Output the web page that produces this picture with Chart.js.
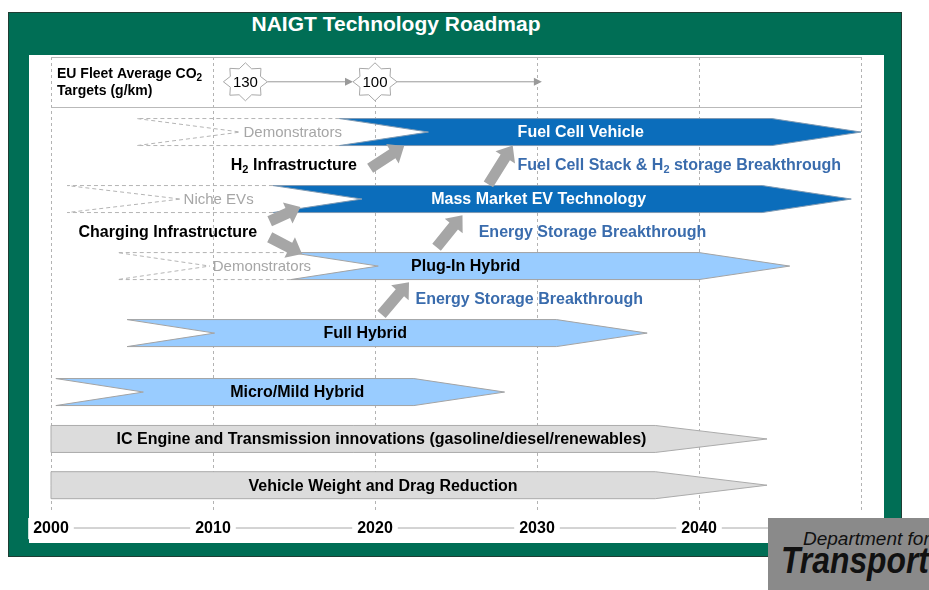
<!DOCTYPE html>
<html><head><meta charset="utf-8">
<script src="https://cdn.jsdelivr.net/npm/chart.js@4.4.1/dist/chart.umd.min.js"></script>
<style>
html,body{margin:0;padding:0;background:#fff;}
#wrap{position:relative;width:929px;height:590px;overflow:hidden;font-family:"Liberation Sans",Arial,sans-serif;}
#frame{position:absolute;left:8px;top:12px;width:894px;height:545px;background:#006e55;border:1px solid #1f3d33;box-sizing:border-box;}
#panel{position:absolute;left:29px;top:55px;width:855px;height:488px;background:#fff;}
#title{position:absolute;left:228px;top:11px;width:336px;text-align:center;color:#fff;font:bold 21px "Liberation Sans",Arial,sans-serif;line-height:26px;white-space:nowrap;}
canvas{position:absolute;left:0;top:0;}
#logo{position:absolute;left:768px;top:518px;width:161px;height:72px;background:#8a8a8a;overflow:hidden;}
#logo .l1{position:absolute;left:35px;top:10px;font:italic 19px "Liberation Sans",Arial,sans-serif;color:#111;white-space:nowrap;}
#logo .l2{position:absolute;left:13px;top:22px;font:bold italic 37px "Liberation Sans",Arial,sans-serif;color:#111;white-space:nowrap;transform:scaleX(0.86);transform-origin:0 0;}
</style></head>
<body>
<div id="wrap">
  <div id="frame"></div>
  <div id="panel"></div>
  <div id="title">NAIGT Technology Roadmap</div>
  <canvas id="c" width="929" height="590"></canvas>
  <div id="logo"><div class="l1">Department for</div><div class="l2">Transport</div></div>
</div>
<script>
// ---------------- DATA ----------------
const yearTicks = [2000, 2010, 2020, 2030, 2040, 2050];

const techNames = ['Fuel Cell Vehicle', 'Mass Market EV Technology', 'Plug-In Hybrid', 'Full Hybrid',
  'Micro/Mild Hybrid', 'IC Engine and Transmission innovations (gasoline/diesel/renewables)',
  'Vehicle Weight and Drag Reduction'];
const techStart = [2017.8, 2013.7, 2014.8, 2004.7, 2000.3, 2000, 2000];
const techEnd   = [2050, 2049.4, 2045.6, 2036.8, 2028, 2044.2, 2044.2];
const techLane  = [0, 1, 2, 3, 3.88, 4.58, 5.27];
const techKind  = ['dark', 'dark', 'light', 'light', 'light', 'grey', 'grey'];

const preNames   = ['Demonstrators', 'Niche EVs', 'Demonstrators'];
const preStart   = [2005.3, 2001.0, 2004.1];
const preLeadsTo = [0, 1, 2];

const co2Label    = ['EU Fleet Average CO_2', 'Targets (g/km)'];
const co2Years    = [2012, 2020];
const co2Values   = [130, 100];
const co2TrendEnd = 2030.3;

const enablerNames = ['H_2 Infrastructure', 'Charging Infrastructure'];
const enablerYear  = [2011.1, 2001.7];
const enablerLane  = [0.5, 1.5];

const breakNames = ['Fuel Cell Stack & H_2 storage Breakthrough', 'Energy Storage Breakthrough', 'Energy Storage Breakthrough'];
const breakYear  = [2028.8, 2026.4, 2022.5];
const breakLane  = [0.5, 1.5, 2.5];

const linkFromYear = [2019.7, 2013.5, 2013.5, 2023.8, 2027.0, 2020.4];
const linkFromLane = [0.54, 1.33, 1.57, 1.72, 0.78, 2.72];
const linkToYear   = [2021.8, 2015.4, 2015.5, 2025.4, 2028.5, 2022.1];
const linkToLane   = [0.21, 1.12, 1.82, 1.24, 0.20, 2.24];

// ---------------- LAYOUT / STYLE ----------------
const LANE_CO2 = -0.75, LANE_DIVIDER = -0.373;
const TECH_LABEL_AT = [2032.7, 2030.1, 2025.6, 2019.4, 2015.2, 2020.4, 2020.5];
const PRE_NOTCH = [6.4, 7.0, 5.7];
const KIND = {
  dark:  {fill: '#0b6dbb', stroke: '#7f9ab3', text: '#ffffff', head: 5.5, notch: 5.5},
  light: {fill: '#99ccff', stroke: '#a3a3a3', text: '#000000', head: 5.6, notch: 5.4},
  grey:  {fill: '#dcdcdc', stroke: '#ababab', text: '#000000', head: 6.9, notch: 0}
};
const FONT = '"Liberation Sans", Arial, sans-serif';
const BLUE_TEXT = '#3a6cad';
const ARROW_GREY = '#a6a6a6';

function drawRich(ctx, text, x, y, size, weight, align) {
  const parts = text.split(/(_\d)/).filter(Boolean);
  const fBase = weight + ' ' + size + 'px ' + FONT;
  const fSub = weight + ' ' + Math.round(size * 0.68) + 'px ' + FONT;
  let w = 0;
  parts.forEach(p => { const s = p[0] === '_'; ctx.font = s ? fSub : fBase; w += ctx.measureText(s ? p.slice(1) : p).width; });
  let cx = align === 'center' ? x - w / 2 : x;
  ctx.textAlign = 'left'; ctx.textBaseline = 'middle';
  parts.forEach(p => {
    const s = p[0] === '_'; const t = s ? p.slice(1) : p;
    ctx.font = s ? fSub : fBase;
    ctx.fillText(t, cx, y + (s ? size * 0.3 : 0));
    cx += ctx.measureText(t).width;
  });
}

function blockArrow(ctx, x1, y1, x2, y2, sw, hw, hl) {
  const dx = x2 - x1, dy = y2 - y1, L = Math.hypot(dx, dy);
  const ux = dx / L, uy = dy / L, nx = -uy, ny = ux;
  const bx = x2 - ux * hl, by = y2 - uy * hl;
  ctx.beginPath();
  ctx.moveTo(x1 + nx * sw / 2, y1 + ny * sw / 2);
  ctx.lineTo(bx + nx * sw / 2, by + ny * sw / 2);
  ctx.lineTo(bx + nx * hw / 2, by + ny * hw / 2);
  ctx.lineTo(x2, y2);
  ctx.lineTo(bx - nx * hw / 2, by - ny * hw / 2);
  ctx.lineTo(bx - nx * sw / 2, by - ny * sw / 2);
  ctx.lineTo(x1 - nx * sw / 2, y1 - ny * sw / 2);
  ctx.closePath();
  ctx.fill();
}

function star(ctx, cx, cy, rx, ry) {
  ctx.beginPath();
  for (let k = 0; k < 16; k++) {
    const a = -Math.PI / 2 + k * Math.PI / 8;
    const f = k % 2 === 0 ? 1 : 0.74;
    const px = cx + Math.cos(a) * rx * f, py = cy + Math.sin(a) * ry * f;
    if (k === 0) ctx.moveTo(px, py); else ctx.lineTo(px, py);
  }
  ctx.closePath();
}

function lineArrow(ctx, x1, x2, y) {
  ctx.beginPath(); ctx.moveTo(x1, y); ctx.lineTo(x2 - 6, y); ctx.stroke();
  ctx.beginPath(); ctx.moveTo(x2, y); ctx.lineTo(x2 - 8, y - 4); ctx.lineTo(x2 - 8, y + 4); ctx.closePath(); ctx.fill();
}

const roadmap = {
  id: 'roadmap',
  beforeDraw(chart) {
    const {ctx, scales: {x}} = chart;
    const yl = x.top + 16;
    ctx.save();
    ctx.strokeStyle = '#a8a8a8'; ctx.lineWidth = 1;
    ctx.beginPath();
    ctx.moveTo(x.getPixelForValue(yearTicks[0]), yl);
    ctx.lineTo(x.getPixelForValue(yearTicks[yearTicks.length - 1]), yl);
    ctx.stroke();
    ctx.restore();
  },
  afterDatasetsDraw(chart) {
    const {ctx, scales: {x, y}, chartArea} = chart;
    const unit = x.getPixelForValue(2001) - x.getPixelForValue(2000);
    const xl = x.getPixelForValue(yearTicks[0]), xr = x.getPixelForValue(yearTicks[yearTicks.length - 1]);
    ctx.save();

    // frame lines of the top row
    ctx.strokeStyle = '#b9b9b9'; ctx.lineWidth = 1;
    ctx.beginPath();
    ctx.moveTo(xl, chartArea.top + 0.5); ctx.lineTo(xr, chartArea.top + 0.5);
    const yd = Math.round(y.getPixelForValue(LANE_DIVIDER)) + 0.5;
    ctx.moveTo(xl, yd); ctx.lineTo(xr, yd);
    ctx.stroke();

    // pre-phases (dashed chevrons)
    const pre = chart.getDatasetMeta(1).data;
    ctx.setLineDash([4, 3]); ctx.strokeStyle = '#b4b4b4';
    pre.forEach((el, i) => {
      const p = el.getProps(['x', 'y', 'base', 'height'], true);
      const h = p.height / 2, xs = p.base, xe = p.x, yc = p.y, nx = xs + PRE_NOTCH[i] * unit;
      ctx.beginPath();
      ctx.moveTo(xe, yc - h); ctx.lineTo(xs, yc - h); ctx.lineTo(nx, yc);
      ctx.moveTo(xe, yc + h); ctx.lineTo(xs, yc + h); ctx.lineTo(nx, yc);
      ctx.stroke();
    });
    ctx.setLineDash([]);

    // technology arrows
    const bars = chart.getDatasetMeta(0).data;
    bars.forEach((el, i) => {
      const st = KIND[techKind[i]];
      const p = el.getProps(['x', 'y', 'base', 'height'], true);
      const h = p.height / 2, xs = p.base, xe = p.x, yc = p.y;
      const hp = st.head * unit, np = st.notch * unit;
      ctx.beginPath();
      ctx.moveTo(xs, yc - h); ctx.lineTo(xe - hp, yc - h); ctx.lineTo(xe, yc);
      ctx.lineTo(xe - hp, yc + h); ctx.lineTo(xs, yc + h); ctx.lineTo(xs + np, yc);
      ctx.closePath();
      ctx.fillStyle = st.fill; ctx.fill();
      ctx.strokeStyle = st.stroke; ctx.lineWidth = 1; ctx.stroke();
      ctx.fillStyle = st.text;
      drawRich(ctx, techNames[i], x.getPixelForValue(TECH_LABEL_AT[i]), yc + 1, 16, 'bold', 'center');
    });

    // pre-phase labels
    ctx.fillStyle = '#a6a6a6';
    pre.forEach((el, i) => {
      const p = el.getProps(['y', 'base'], true);
      drawRich(ctx, preNames[i], p.base + PRE_NOTCH[i] * unit + 3, p.y + 1, 15, 'normal', 'left');
    });

    // enablers and breakthroughs
    ctx.fillStyle = '#000';
    enablerNames.forEach((t, i) => drawRich(ctx, t, x.getPixelForValue(enablerYear[i]), y.getPixelForValue(enablerLane[i]), 16, 'bold', 'left'));
    ctx.fillStyle = BLUE_TEXT;
    breakNames.forEach((t, i) => drawRich(ctx, t, x.getPixelForValue(breakYear[i]), y.getPixelForValue(breakLane[i]), 16, 'bold', 'left'));

    // grey block arrows
    ctx.fillStyle = ARROW_GREY;
    linkFromYear.forEach((_, i) => blockArrow(ctx,
      x.getPixelForValue(linkFromYear[i]), y.getPixelForValue(linkFromLane[i]),
      x.getPixelForValue(linkToYear[i]), y.getPixelForValue(linkToLane[i]), 11, 23, 14));

    // CO2 target row
    const yc = y.getPixelForValue(LANE_CO2);
    ctx.fillStyle = '#000';
    drawRich(ctx, co2Label[0], xl + 6, yc - 8, 14, 'bold', 'left');
    drawRich(ctx, co2Label[1], xl + 6, yc + 9, 14, 'bold', 'left');
    const RX = 22, RY = 19;
    ctx.lineWidth = 1;
    co2Years.forEach((yr, i) => {
      const cx = x.getPixelForValue(yr);
      const nextX = i + 1 < co2Years.length ? x.getPixelForValue(co2Years[i + 1]) - RX : x.getPixelForValue(co2TrendEnd);
      ctx.strokeStyle = '#9a9a9a'; ctx.fillStyle = '#9a9a9a';
      lineArrow(ctx, cx + RX, nextX, yc);
    });
    co2Years.forEach((yr, i) => {
      const cx = x.getPixelForValue(yr);
      star(ctx, cx, yc, RX, RY);
      ctx.fillStyle = '#fff'; ctx.fill();
      ctx.strokeStyle = '#a8a8a8'; ctx.stroke();
      ctx.fillStyle = '#000';
      drawRich(ctx, String(co2Values[i]), cx, yc + 1, 15, 'normal', 'center');
    });
    ctx.restore();
  }
};

const techData = techNames.map((n, i) => ({x: [techStart[i], techEnd[i]], y: techLane[i]}));
const preData = preNames.map((n, i) => ({x: [preStart[i], techStart[preLeadsTo[i]]], y: techLane[preLeadsTo[i]]}));

new Chart(document.getElementById('c'), {
  type: 'bar',
  data: {
    datasets: [
      {label: 'Technologies', data: techData, backgroundColor: 'rgba(0,0,0,0)', borderWidth: 0, barThickness: 27, grouped: false},
      {label: 'Early phase', data: preData, backgroundColor: 'rgba(0,0,0,0)', borderWidth: 0, barThickness: 27, grouped: false}
    ]
  },
  options: {
    indexAxis: 'y',
    responsive: false,
    animation: false,
    devicePixelRatio: 1,
    events: [],
    layout: {padding: {left: 51, right: 68, top: 57, bottom: 48}},
    plugins: {legend: {display: false}, tooltip: {enabled: false}, title: {display: false}},
    scales: {
      x: {
        type: 'linear', position: 'bottom', min: yearTicks[0], max: yearTicks[yearTicks.length - 1],
        beginAtZero: false,
        afterBuildTicks: s => { s.ticks = yearTicks.map(v => ({value: v})); },
        afterFit: s => { s.height = 30; },
        grid: {color: '#b3b3b3', lineWidth: 1, drawTicks: false},
        border: {display: false, dash: [3, 3]},
        ticks: {
          padding: 7, color: '#000',
          font: {family: '"Liberation Sans", Arial, sans-serif', size: 16, weight: 'bold'},
          callback: v => String(v),
          showLabelBackdrop: true, backdropColor: '#ffffff', backdropPadding: {x: 5, y: 1}
        }
      },
      y: {
        type: 'linear', reverse: true, min: -1.12, max: 5.67, offset: false, display: false
      }
    }
  },
  plugins: [roadmap]
});
</script>
</body></html>
